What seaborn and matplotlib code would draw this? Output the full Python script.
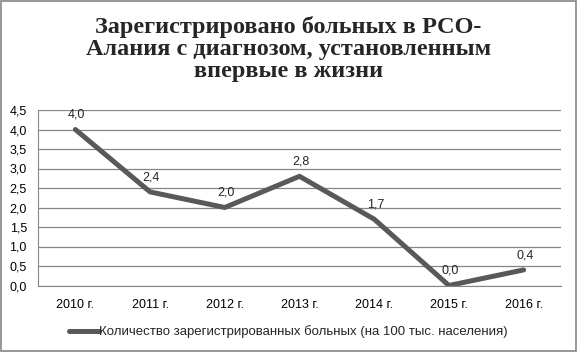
import matplotlib
matplotlib.use('Agg')
import matplotlib.pyplot as plt
import seaborn as sns
import pandas as pd
from matplotlib.patches import Rectangle

years = ['2010 г.', '2011 г.', '2012 г.', '2013 г.', '2014 г.', '2015 г.', '2016 г.']
values = [4.0, 2.4, 2.0, 2.8, 1.7, 0.0, 0.4]
series_name = 'Количество зарегистрированных больных (на 100 тыс. населения)'
title = 'Зарегистрировано больных в РСО-\nАлания с диагнозом, установленным\nвпервые в жизни'

df = pd.DataFrame({'year': years, 'value': values, 'series': series_name})

sns.set_style('white')
plt.rcParams['font.family'] = ['Liberation Sans', 'DejaVu Sans']

W, H = 578, 352
fig = plt.figure(figsize=(W / 100, H / 100), dpi=100)
# plot area measured in pixels: x 38..561, y 110..285.5
ax = fig.add_axes([38 / W, 1 - 285.5 / H, 523 / W, 175.5 / H])

line_color = '#595959'
sns.lineplot(data=df, x='year', y='value', hue='series', palette=[line_color],
             linewidth=3.6, sort=False, ax=ax, solid_capstyle='round')

ax.set_xlim(-0.5, len(years) - 0.5)
ax.set_ylim(0, 4.5)
ax.set_yticks([i * 0.5 for i in range(10)])
ax.set_yticklabels([f'{i * 0.5:.1f}'.replace('.', ',') for i in range(10)])
ax.grid(axis='y', color='#868686', linewidth=0.9)
ax.set_axisbelow(True)
for s in ['top', 'right']:
    ax.spines[s].set_visible(False)
ax.spines['left'].set_color('#868686')
ax.spines['bottom'].set_color('#868686')
ax.tick_params(axis='y', labelsize=9, colors='black', length=0, pad=8)
ax.tick_params(axis='x', labelsize=9, colors='black', length=0, pad=10)
ax.set_xlabel('')
ax.set_ylabel('')

for i, v in enumerate(values):
    ax.annotate(f'{v:.1f}'.replace('.', ','), (i, v), textcoords='offset points',
                xytext=(1, 10.5), ha='center', va='center', fontsize=9)

fig.text(0.499, 1 - 49 / H, title, ha='center', va='center', fontsize=17.5,
         fontweight='bold', family='Liberation Serif', linespacing=1.06)

handles, labels = ax.get_legend_handles_labels()
ax.get_legend().remove()
leg = fig.legend(handles, labels, loc='center', bbox_to_anchor=(288 / W, 1 - 332 / H),
                 frameon=False, fontsize=9.5, handlelength=2.3, handletextpad=0.0)
for h in leg.get_lines():
    h.set_linewidth(3.6)

fig.patches.append(Rectangle((0.002, 0.004), 0.994, 0.993, transform=fig.transFigure,
                             fill=False, edgecolor='#868686', linewidth=1.2))

fig.savefig('out.png', dpi=100)
